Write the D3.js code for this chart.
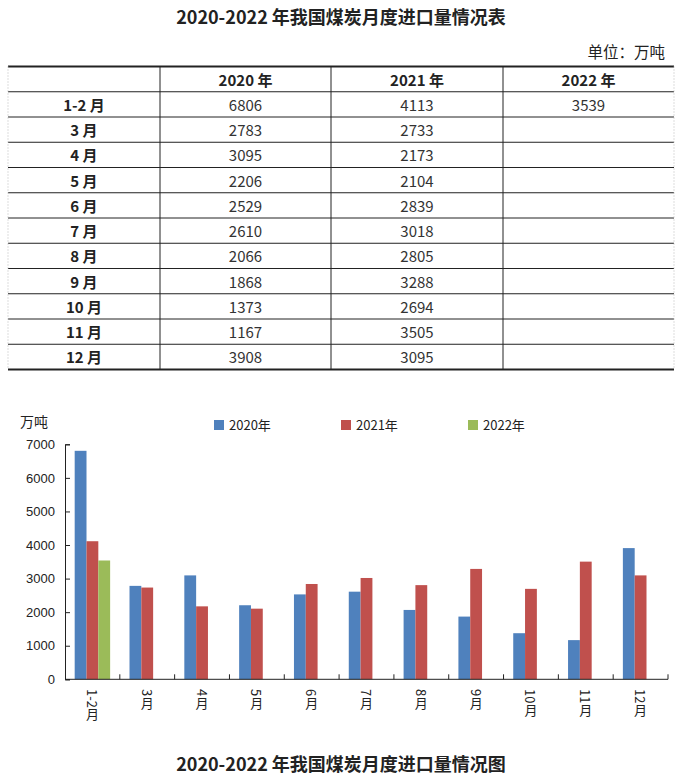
<!DOCTYPE html>
<meta charset="utf-8">
<script src="https://d3js.org/d3.v7.min.js"></script>
<style>
  body { margin: 0; background: #fff; }
  text { font-family: "Noto Sans CJK SC", "Noto Sans", sans-serif; fill: #222; }
</style>
<body>
<svg width="682" height="778"></svg>
</body>
<script>
  // data
  const months = ['1-2', '3', '4', '5', '6', '7', '8', '9', '10', '11', '12'];
  const years = ['2020', '2021', '2022'];
  const v2020 = [6806, 2783, 3095, 2206, 2529, 2610, 2066, 1868, 1373, 1167, 3908];
  const v2021 = [4113, 2733, 2173, 2104, 2839, 3018, 2805, 3288, 2694, 3505, 3095];
  const v2022 = [3539];
  const yTicks = [0, 1000, 2000, 3000, 4000, 5000, 6000, 7000];
  const colors = ['#4F81BD', '#C0504D', '#9BBB59'];

  const values = [v2020, v2021, v2022];

  const svg = d3.select('svg');
  const width = +svg.attr('width');

  //////////////// table

  svg.append('text')
    .attr('x', width / 2).attr('y', 24)
    .attr('text-anchor', 'middle')
    .style('font-size', '18px').style('font-weight', 'bold')
    .text('2020-2022 年我国煤炭月度进口量情况表');

  svg.append('text')
    .attr('x', 665).attr('y', 58)
    .attr('text-anchor', 'end')
    .style('font-size', '15.5px')
    .text('单位：万吨');

  const rowKeys = ['head'].concat(months);
  const rowScale = d3.scaleBand().domain(rowKeys).range([66.5, 369.5]);
  const colEdges = [8, 160, 331, 503, 674];
  const colMid = i => (colEdges[i] + colEdges[i + 1]) / 2;

  const tbl = svg.append('g');

  // row lines
  tbl.selectAll('line.row').data(rowKeys.slice(1))
    .enter().append('line')
    .attr('x1', 8).attr('x2', 674)
    .attr('y1', d => rowScale(d)).attr('y2', d => rowScale(d))
    .attr('stroke', '#222').attr('stroke-width', 1);

  // top / bottom thick lines
  [66.5, 369.5].forEach(y => {
    tbl.append('line').attr('x1', 8).attr('x2', 674).attr('y1', y).attr('y2', y)
      .attr('stroke', '#222').attr('stroke-width', 2);
  });

  // column lines
  colEdges.forEach((x, i) => {
    const edge = i === 0 || i === colEdges.length - 1;
    tbl.append('line').attr('x1', x).attr('x2', x).attr('y1', 66.5).attr('y2', 369.5)
      .attr('stroke', edge ? '#bbb' : '#222')
      .attr('stroke-width', 1)
      .attr('stroke-dasharray', edge ? '1,2' : null);
  });

  const midY = k => rowScale(k) + rowScale.bandwidth() / 2;

  // header
  years.forEach((yr, i) => {
    tbl.append('text')
      .attr('x', colMid(i + 1)).attr('y', midY('head'))
      .attr('text-anchor', 'middle').attr('dominant-baseline', 'central')
      .style('font-size', '15px').style('font-weight', 'bold')
      .text(yr + ' 年');
  });

  // row labels
  tbl.selectAll('text.lab').data(months)
    .enter().append('text')
    .attr('x', colMid(0)).attr('y', d => midY(d))
    .attr('text-anchor', 'middle').attr('dominant-baseline', 'central')
    .style('font-size', '15px').style('font-weight', 'bold')
    .text(d => d + ' 月');

  // values
  values.forEach((arr, j) => {
    tbl.selectAll('text.v' + j).data(arr)
      .enter().append('text')
      .attr('x', colMid(j + 1)).attr('y', (d, i) => midY(months[i]))
      .attr('text-anchor', 'middle').attr('dominant-baseline', 'central')
      .style('font-size', '15px').style('fill', '#333')
      .text(d => d);
  });

  //////////////// chart

  const margin = {left: 65, right: 668, top: 444.3, bottom: 679.3};

  const x0 = d3.scaleBand().domain(months).range([margin.left, margin.right]);
  const x1 = d3.scaleBand().domain(years).range([0, x0.bandwidth()]).paddingOuter(0.82);
  const yScale = d3.scaleLinear().domain([0, 7000]).range([margin.bottom, margin.top]);

  const g = svg.append('g');

  // bars
  values.forEach((arr, j) => {
    g.selectAll('rect.s' + j).data(arr)
      .enter().append('rect')
      .attr('x', (d, i) => x0(months[i]) + x1(years[j]))
      .attr('y', d => yScale(d))
      .attr('width', x1.bandwidth())
      .attr('height', d => yScale(0) - yScale(d))
      .attr('fill', colors[j]);
  });

  // y axis
  const yAxis = d3.axisLeft(yScale).tickValues(yTicks).tickSize(-5).tickPadding(10).tickFormat(d3.format('d'));
  const ya = g.append('g').attr('transform', `translate(${margin.left},0)`).call(yAxis);
  ya.select('.domain').attr('stroke', '#222');
  ya.selectAll('line').attr('stroke', '#222');
  ya.selectAll('text').style('font-size', '13px').style('fill', '#222')
    .style('font-family', '"Liberation Sans", sans-serif');

  // x axis line + ticks between categories
  g.append('line')
    .attr('x1', margin.left).attr('x2', margin.right)
    .attr('y1', margin.bottom).attr('y2', margin.bottom)
    .attr('stroke', '#222');
  g.selectAll('line.xt').data(months)
    .enter().append('line')
    .attr('x1', d => x0(d) + x0.bandwidth()).attr('x2', d => x0(d) + x0.bandwidth())
    .attr('y1', margin.bottom).attr('y2', margin.bottom - 5)
    .attr('stroke', '#222');

  // x labels, vertical
  g.selectAll('text.xl').data(months)
    .enter().append('text')
    .attr('x', d => x0(d) + x0.bandwidth() / 2)
    .attr('y', 689)
    .style('writing-mode', 'vertical-rl')
    .style('font-size', '13px')
    .text(d => d + '月');

  svg.append('text')
    .attr('x', 20).attr('y', 427)
    .style('font-size', '14px')
    .text('万吨');

  // legend
  const legendX = [214, 341, 468];
  years.forEach((yr, i) => {
    svg.append('rect')
      .attr('x', legendX[i]).attr('y', 420).attr('width', 10).attr('height', 10)
      .attr('fill', colors[i]);
    svg.append('text')
      .attr('x', legendX[i] + 15).attr('y', 430)
      .style('font-size', '13px')
      .text(yr + '年');
  });

  svg.append('text')
    .attr('x', width / 2).attr('y', 771)
    .attr('text-anchor', 'middle')
    .style('font-size', '18px').style('font-weight', 'bold')
    .text('2020-2022 年我国煤炭月度进口量情况图');
</script>
